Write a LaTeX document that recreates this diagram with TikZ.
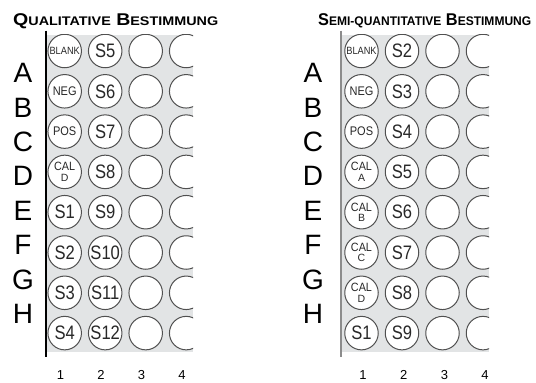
\documentclass[tikz,border=0pt]{standalone}
\usepackage{fontspec}
\setmainfont{Liberation Sans}
\usepackage{tikz}
\usetikzlibrary{positioning}
\definecolor{plategray}{RGB}{226,228,229}
\definecolor{wellrim}{RGB}{80,80,80}
\definecolor{axisgray}{RGB}{140,140,140}
\definecolor{welltext}{RGB}{40,40,40}
\newcommand{\smcap}[1]{{\fontsize{12.5}{14}\selectfont #1}}
\newcommand{\wbig}[1]{{\fontsize{19.5}{19.5}\selectfont\scalebox{0.85}[1]{#1}}}
\newcommand{\wsmall}[2]{{\fontsize{#1}{#1}\selectfont\scalebox{0.88}[1]{#2}}}
\newcommand{\wcal}[1]{\shortstack{\fontsize{12}{10}\selectfont\scalebox{0.9}[1]{CAL}\\\fontsize{10.5}{10}\selectfont #1}}

\begin{document}
\begin{tikzpicture}[
    x=1pt, y=-1pt,
    titletext/.style={font=\fontsize{17}{20}\selectfont\bfseries, anchor=base west, inner sep=0pt},
    well/.style={circle, draw=wellrim, fill=white, line width=1pt, minimum size=33.5pt, inner sep=0pt, text=welltext},
    rowletter/.style={font=\fontsize{28}{28}\selectfont, inner sep=0pt},
    colnum/.style={font=\fontsize{13}{13}\selectfont, inner sep=0pt},
]
    \useasboundingbox (0,0) rectangle (536,383);

    % titles
    \node[titletext] (qtitle) at (13,25) {\resizebox{205pt}{\height}{Q\smcap{UALITATIVE} B\smcap{ESTIMMUNG}}};
    \node[titletext] (stitle) at (318,25) {\resizebox{213pt}{\height}{S\smcap{EMI-QUANTITATIVE} B\smcap{ESTIMMUNG}}};

    % qualitative plate
    \begin{scope}
        \clip (46,34.5) rectangle (193,352);
        \fill[plategray] (46,34.5) rectangle (193,352);
        \foreach \r/\la/\lb in {1/{\wsmall{10.5}{BLANK}}/{\wbig{S5}}, 2/{\wsmall{12.5}{NEG}}/{\wbig{S6}},
                                3/{\wsmall{12.5}{POS}}/{\wbig{S7}}, 4/{\wcal{D}}/{\wbig{S8}},
                                5/{\wbig{S1}}/{\wbig{S9}}, 6/{\wbig{S2}}/{\wbig{S10}},
                                7/{\wbig{S3}}/{\wbig{S11}}, 8/{\wbig{S4}}/{\wbig{S12}}} {
            \node[well] (q\r-1) at (64.7, {51+(\r-1)*40.3}) {\la};
            \node[well] (q\r-2) at (105.2, {51+(\r-1)*40.3}) {\lb};
            \node[well] (q\r-3) at (145.7, {51+(\r-1)*40.3}) {};
            \node[well] (q\r-4) at (186.2, {51+(\r-1)*40.3}) {};
        }
    \end{scope}
    \coordinate (qtop) at (46,30.5);
    \coordinate (qbot) at (46,357);
    \draw[black, line width=1.5pt] (qtop) -- (qbot);
    \foreach \l [count=\i] in {A,B,C,D,E,F,G,H}
        \node[rowletter] (qrow\l) at (23, {73+(\i-1)*34.4}) {\l};
    \foreach \c in {1,...,4}
        \node[colnum] (qcol\c) at ({60.5+(\c-1)*40.5}, 375) {\c};

    % semi-quantitative plate
    \begin{scope}
        \clip (341,34.5) rectangle (489,352);
        \fill[plategray] (341,34.5) rectangle (489,352);
        \foreach \r/\la/\lb in {1/{\wsmall{10.5}{BLANK}}/{\wbig{S2}}, 2/{\wsmall{12.5}{NEG}}/{\wbig{S3}},
                                3/{\wsmall{12.5}{POS}}/{\wbig{S4}}, 4/{\wcal{A}}/{\wbig{S5}},
                                5/{\wcal{B}}/{\wbig{S6}}, 6/{\wcal{C}}/{\wbig{S7}},
                                7/{\wcal{D}}/{\wbig{S8}}, 8/{\wbig{S1}}/{\wbig{S9}}} {
            \node[well] (s\r-1) at (361.5, {51+(\r-1)*40.3}) {\la};
            \node[well] (s\r-2) at (402, {51+(\r-1)*40.3}) {\lb};
            \node[well] (s\r-3) at (442.5, {51+(\r-1)*40.3}) {};
            \node[well] (s\r-4) at (483, {51+(\r-1)*40.3}) {};
        }
    \end{scope}
    \coordinate (stop) at (341,30.5);
    \coordinate (sbot) at (341,357);
    \draw[axisgray, line width=1.5pt] (stop) -- (sbot);
    \foreach \l [count=\i] in {A,B,C,D,E,F,G,H}
        \node[rowletter] (srow\l) at (313, {73+(\i-1)*34.4}) {\l};
    \foreach \c in {1,...,4}
        \node[colnum] (scol\c) at ({363+(\c-1)*40.7}, 375) {\c};
\end{tikzpicture}
\end{document}
